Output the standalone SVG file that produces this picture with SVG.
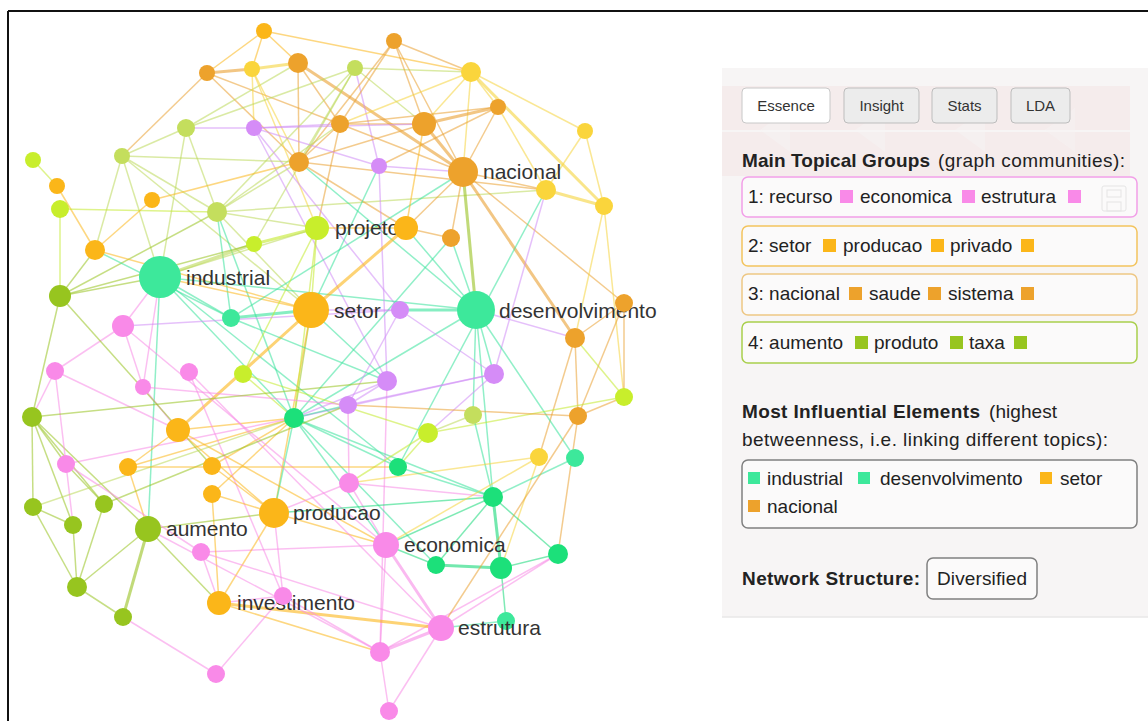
<svg xmlns="http://www.w3.org/2000/svg" width="1148" height="721" viewBox="0 0 1148 721">
<style>
.e line{stroke-width:1.5;stroke-opacity:0.55;fill:none}
.or{stroke:#fbb619}.do{stroke:#e9a032}.ye{stroke:#f5d43c}.yg{stroke:#c3ea2c}.lo{stroke:#bcd85a}.ol{stroke:#97c21f}.pk{stroke:#f78ae6}.pu{stroke:#d08cf5}.mi{stroke:#36e29a}.gr{stroke:#16d878}
.e line.w{stroke-width:3;stroke-opacity:0.6}
.cor{fill:#fbb619}.cdo{fill:#eda22c}.cye{fill:#fad53c}.cyg{fill:#c8ee2c}.clo{fill:#c4de5d}.col{fill:#97c51f}.cpk{fill:#f98ae8}.cpu{fill:#d58cf7}.cmi{fill:#3de89b}.cgr{fill:#1ce07a}
.lbl{font-family:"Liberation Sans",Arial,sans-serif;font-size:21px;fill:#333}
.pt{font-family:"Liberation Sans",Arial,sans-serif;font-size:19px;fill:#222}
.b{font-weight:bold}
.btn{font-family:"Liberation Sans",Arial,sans-serif;font-size:15px;fill:#333;text-anchor:middle}
</style>
<rect width="1148" height="721" fill="#fff"/>
<g id="frame" stroke="#111" stroke-width="2">
<line x1="8" y1="11" x2="1148" y2="11"/>
<line x1="8" y1="11" x2="8" y2="721"/>
</g>
<g id="connectors" class="e">
<line class="or" x1="264" y1="31" x2="207" y2="73"/>
<line class="or" x1="264" y1="31" x2="252" y2="69"/>
<line class="or" x1="264" y1="31" x2="298" y2="63"/>
<line class="or" x1="264" y1="31" x2="471" y2="72"/>
<line class="do w" x1="207" y1="73" x2="252" y2="69"/>
<line class="ye w" x1="252" y1="69" x2="298" y2="63"/>
<line class="do" x1="207" y1="73" x2="122" y2="156"/>
<line class="do" x1="207" y1="73" x2="340" y2="124"/>
<line class="do" x1="207" y1="73" x2="299" y2="162"/>
<line class="do w" x1="298" y1="63" x2="463" y2="172"/>
<line class="do" x1="298" y1="63" x2="340" y2="124"/>
<line class="do" x1="298" y1="63" x2="299" y2="162"/>
<line class="lo" x1="298" y1="63" x2="186" y2="128"/>
<line class="ye" x1="252" y1="69" x2="254" y2="128"/>
<line class="ye" x1="252" y1="69" x2="299" y2="162"/>
<line class="ye" x1="252" y1="69" x2="317" y2="228"/>
<line class="lo" x1="355" y1="68" x2="186" y2="128"/>
<line class="lo" x1="355" y1="68" x2="471" y2="72"/>
<line class="lo" x1="355" y1="68" x2="424" y2="124"/>
<line class="pu" x1="355" y1="68" x2="379" y2="166"/>
<line class="lo" x1="355" y1="68" x2="217" y2="212"/>
<line class="lo" x1="355" y1="68" x2="254" y2="244"/>
<line class="lo" x1="355" y1="68" x2="299" y2="162"/>
<line class="do" x1="394" y1="41" x2="471" y2="72"/>
<line class="do" x1="394" y1="41" x2="340" y2="124"/>
<line class="do" x1="394" y1="41" x2="424" y2="124"/>
<line class="do" x1="394" y1="41" x2="463" y2="172"/>
<line class="do" x1="394" y1="41" x2="299" y2="162"/>
<line class="ye" x1="471" y1="72" x2="498" y2="107"/>
<line class="ye" x1="471" y1="72" x2="585" y2="131"/>
<line class="ye w" x1="471" y1="72" x2="604" y2="206"/>
<line class="ye" x1="471" y1="72" x2="463" y2="172"/>
<line class="ye" x1="471" y1="72" x2="424" y2="124"/>
<line class="ye" x1="471" y1="72" x2="340" y2="124"/>
<line class="do w" x1="498" y1="107" x2="424" y2="124"/>
<line class="do" x1="498" y1="107" x2="463" y2="172"/>
<line class="ye" x1="498" y1="107" x2="546" y2="190"/>
<line class="do" x1="498" y1="107" x2="340" y2="124"/>
<line class="do" x1="498" y1="107" x2="379" y2="166"/>
<line class="ye" x1="585" y1="131" x2="604" y2="206"/>
<line class="ye" x1="585" y1="131" x2="546" y2="190"/>
<line class="ye w" x1="546" y1="190" x2="604" y2="206"/>
<line class="do" x1="463" y1="172" x2="546" y2="190"/>
<line class="do w" x1="424" y1="124" x2="463" y2="172"/>
<line class="do" x1="424" y1="124" x2="340" y2="124"/>
<line class="do" x1="424" y1="124" x2="299" y2="162"/>
<line class="pu" x1="340" y1="124" x2="254" y2="128"/>
<line class="pu" x1="254" y1="128" x2="424" y2="124"/>
<line class="do" x1="340" y1="124" x2="463" y2="172"/>
<line class="do" x1="340" y1="124" x2="299" y2="162"/>
<line class="do" x1="340" y1="124" x2="317" y2="228"/>
<line class="pu" x1="254" y1="128" x2="186" y2="128"/>
<line class="pu" x1="254" y1="128" x2="379" y2="166"/>
<line class="pu" x1="254" y1="128" x2="400" y2="310"/>
<line class="pu" x1="254" y1="128" x2="387" y2="381"/>
<line class="lo" x1="186" y1="128" x2="122" y2="156"/>
<line class="lo" x1="186" y1="128" x2="217" y2="212"/>
<line class="lo" x1="186" y1="128" x2="160" y2="277"/>
<line class="lo" x1="122" y1="156" x2="95" y2="250"/>
<line class="lo" x1="122" y1="156" x2="160" y2="277"/>
<line class="lo" x1="122" y1="156" x2="217" y2="212"/>
<line class="lo" x1="122" y1="156" x2="299" y2="162"/>
<line class="lo" x1="122" y1="156" x2="311" y2="310"/>
<line class="yg" x1="33" y1="160" x2="57" y2="186"/>
<line class="or" x1="57" y1="186" x2="95" y2="250"/>
<line class="yg" x1="60" y1="209" x2="60" y2="296"/>
<line class="yg" x1="60" y1="209" x2="217" y2="212"/>
<line class="or" x1="152" y1="200" x2="95" y2="250"/>
<line class="or" x1="152" y1="200" x2="299" y2="162"/>
<line class="lo" x1="217" y1="212" x2="299" y2="162"/>
<line class="lo" x1="217" y1="212" x2="340" y2="124"/>
<line class="lo" x1="217" y1="212" x2="317" y2="228"/>
<line class="mi" x1="217" y1="212" x2="294" y2="418"/>
<line class="lo" x1="217" y1="212" x2="311" y2="310"/>
<line class="lo" x1="217" y1="212" x2="546" y2="190"/>
<line class="mi" x1="217" y1="212" x2="231" y2="318"/>
<line class="yg w" x1="254" y1="244" x2="317" y2="228"/>
<line class="lo w" x1="160" y1="277" x2="254" y2="244"/>
<line class="lo" x1="160" y1="277" x2="317" y2="228"/>
<line class="ol" x1="60" y1="296" x2="160" y2="277"/>
<line class="ol" x1="60" y1="296" x2="217" y2="212"/>
<line class="ol" x1="60" y1="296" x2="254" y2="244"/>
<line class="or" x1="160" y1="277" x2="311" y2="310"/>
<line class="or" x1="95" y1="250" x2="311" y2="310"/>
<line class="mi" x1="160" y1="277" x2="476" y2="310"/>
<line class="mi w" x1="231" y1="318" x2="311" y2="310"/>
<line class="mi" x1="95" y1="250" x2="231" y2="318"/>
<line class="mi" x1="160" y1="277" x2="231" y2="318"/>
<line class="mi" x1="160" y1="277" x2="294" y2="418"/>
<line class="mi" x1="160" y1="277" x2="398" y2="467"/>
<line class="mi" x1="160" y1="277" x2="148" y2="529"/>
<line class="pk" x1="160" y1="277" x2="123" y2="326"/>
<line class="pk" x1="160" y1="277" x2="143" y2="387"/>
<line class="mi" x1="299" y1="162" x2="476" y2="310"/>
<line class="do" x1="299" y1="162" x2="406" y2="228"/>
<line class="do" x1="299" y1="162" x2="546" y2="190"/>
<line class="pu" x1="379" y1="166" x2="387" y2="381"/>
<line class="mi" x1="379" y1="166" x2="311" y2="310"/>
<line class="do" x1="463" y1="172" x2="451" y2="238"/>
<line class="do" x1="463" y1="172" x2="406" y2="228"/>
<line class="ol w" x1="463" y1="172" x2="476" y2="310"/>
<line class="do w" x1="463" y1="172" x2="575" y2="338"/>
<line class="do" x1="463" y1="172" x2="624" y2="303"/>
<line class="mi" x1="463" y1="172" x2="231" y2="318"/>
<line class="pu" x1="463" y1="172" x2="379" y2="166"/>
<line class="pu" x1="546" y1="190" x2="494" y2="374"/>
<line class="mi" x1="546" y1="190" x2="398" y2="467"/>
<line class="ye" x1="604" y1="206" x2="575" y2="338"/>
<line class="ye" x1="604" y1="206" x2="624" y2="397"/>
<line class="do" x1="624" y1="303" x2="575" y2="338"/>
<line class="do" x1="624" y1="303" x2="578" y2="416"/>
<line class="do" x1="624" y1="303" x2="624" y2="397"/>
<line class="pu" x1="476" y1="310" x2="575" y2="338"/>
<line class="do" x1="575" y1="338" x2="578" y2="416"/>
<line class="do" x1="575" y1="338" x2="539" y2="457"/>
<line class="yg" x1="624" y1="397" x2="575" y2="338"/>
<line class="mi w" x1="476" y1="310" x2="400" y2="310"/>
<line class="pu" x1="311" y1="310" x2="400" y2="310"/>
<line class="or w" x1="311" y1="310" x2="406" y2="228"/>
<line class="or w" x1="311" y1="310" x2="178" y2="430"/>
<line class="ol" x1="311" y1="310" x2="294" y2="418"/>
<line class="yg" x1="311" y1="310" x2="317" y2="228"/>
<line class="mi" x1="311" y1="310" x2="387" y2="381"/>
<line class="or" x1="311" y1="310" x2="274" y2="513"/>
<line class="mi" x1="476" y1="310" x2="294" y2="418"/>
<line class="mi" x1="476" y1="310" x2="494" y2="374"/>
<line class="mi" x1="476" y1="310" x2="575" y2="458"/>
<line class="mi" x1="476" y1="310" x2="473" y2="415"/>
<line class="mi" x1="476" y1="310" x2="406" y2="228"/>
<line class="mi" x1="476" y1="310" x2="451" y2="238"/>
<line class="mi" x1="476" y1="310" x2="493" y2="497"/>
<line class="mi" x1="451" y1="238" x2="294" y2="418"/>
<line class="do" x1="451" y1="238" x2="406" y2="228"/>
<line class="or" x1="406" y1="228" x2="317" y2="228"/>
<line class="or" x1="406" y1="228" x2="424" y2="124"/>
<line class="yg" x1="317" y1="228" x2="294" y2="418"/>
<line class="yg" x1="317" y1="228" x2="243" y2="374"/>
<line class="pu" x1="400" y1="310" x2="494" y2="374"/>
<line class="pu" x1="400" y1="310" x2="348" y2="405"/>
<line class="pu" x1="387" y1="381" x2="348" y2="405"/>
<line class="pk" x1="387" y1="381" x2="380" y2="652"/>
<line class="pu" x1="387" y1="381" x2="294" y2="418"/>
<line class="pu" x1="494" y1="374" x2="348" y2="405"/>
<line class="pu" x1="494" y1="374" x2="294" y2="418"/>
<line class="pu" x1="494" y1="374" x2="428" y2="433"/>
<line class="yg" x1="624" y1="397" x2="428" y2="433"/>
<line class="do" x1="578" y1="416" x2="624" y2="397"/>
<line class="do" x1="578" y1="416" x2="348" y2="405"/>
<line class="do" x1="578" y1="416" x2="558" y2="554"/>
<line class="lo" x1="473" y1="415" x2="428" y2="433"/>
<line class="mi" x1="473" y1="415" x2="493" y2="497"/>
<line class="ye" x1="539" y1="457" x2="349" y2="483"/>
<line class="ye" x1="539" y1="457" x2="501" y2="568"/>
<line class="mi" x1="575" y1="458" x2="493" y2="497"/>
<line class="mi" x1="294" y1="418" x2="348" y2="405"/>
<line class="mi" x1="294" y1="418" x2="398" y2="467"/>
<line class="mi" x1="294" y1="418" x2="493" y2="497"/>
<line class="mi" x1="294" y1="418" x2="386" y2="545"/>
<line class="mi" x1="294" y1="418" x2="436" y2="565"/>
<line class="or" x1="294" y1="418" x2="178" y2="430"/>
<line class="or" x1="294" y1="418" x2="128" y2="467"/>
<line class="or" x1="294" y1="418" x2="212" y2="466"/>
<line class="or" x1="294" y1="418" x2="212" y2="494"/>
<line class="pk" x1="294" y1="418" x2="66" y2="464"/>
<line class="mi" x1="294" y1="418" x2="274" y2="513"/>
<line class="yg" x1="243" y1="374" x2="294" y2="418"/>
<line class="yg" x1="243" y1="374" x2="428" y2="433"/>
<line class="mi" x1="231" y1="318" x2="387" y2="381"/>
<line class="mi" x1="398" y1="467" x2="493" y2="497"/>
<line class="yg" x1="398" y1="467" x2="428" y2="433"/>
<line class="gr w" x1="493" y1="497" x2="501" y2="568"/>
<line class="gr" x1="493" y1="497" x2="558" y2="554"/>
<line class="gr" x1="493" y1="497" x2="386" y2="545"/>
<line class="gr" x1="493" y1="497" x2="436" y2="565"/>
<line class="pk" x1="493" y1="497" x2="349" y2="483"/>
<line class="gr" x1="386" y1="545" x2="436" y2="565"/>
<line class="gr w" x1="436" y1="565" x2="501" y2="568"/>
<line class="gr" x1="501" y1="568" x2="558" y2="554"/>
<line class="gr" x1="501" y1="568" x2="506" y2="621"/>
<line class="pk" x1="558" y1="554" x2="441" y2="628"/>
<line class="pk" x1="558" y1="554" x2="380" y2="652"/>
<line class="pk w" x1="386" y1="545" x2="441" y2="628"/>
<line class="pk" x1="386" y1="545" x2="380" y2="652"/>
<line class="pk" x1="386" y1="545" x2="349" y2="483"/>
<line class="or" x1="386" y1="545" x2="274" y2="513"/>
<line class="pk" x1="386" y1="545" x2="123" y2="326"/>
<line class="pk" x1="386" y1="545" x2="201" y2="552"/>
<line class="pk" x1="189" y1="372" x2="441" y2="628"/>
<line class="or" x1="178" y1="430" x2="386" y2="545"/>
<line class="pk w" x1="441" y1="628" x2="380" y2="652"/>
<line class="pk" x1="380" y1="652" x2="389" y2="711"/>
<line class="pk" x1="441" y1="628" x2="389" y2="711"/>
<line class="or w" x1="441" y1="628" x2="219" y2="603"/>
<line class="or" x1="380" y1="652" x2="219" y2="603"/>
<line class="pk" x1="283" y1="596" x2="380" y2="652"/>
<line class="pk" x1="283" y1="596" x2="219" y2="603"/>
<line class="pk" x1="283" y1="596" x2="274" y2="513"/>
<line class="pk" x1="283" y1="596" x2="189" y2="372"/>
<line class="pk" x1="216" y1="674" x2="123" y2="617"/>
<line class="pk" x1="216" y1="674" x2="283" y2="596"/>
<line class="or" x1="219" y1="603" x2="274" y2="513"/>
<line class="pk" x1="219" y1="603" x2="201" y2="552"/>
<line class="ol" x1="219" y1="603" x2="148" y2="529"/>
<line class="or" x1="219" y1="603" x2="212" y2="494"/>
<line class="ol" x1="148" y1="529" x2="274" y2="513"/>
<line class="ol" x1="148" y1="529" x2="77" y2="587"/>
<line class="ol w" x1="148" y1="529" x2="123" y2="617"/>
<line class="pk" x1="148" y1="529" x2="380" y2="652"/>
<line class="or" x1="148" y1="529" x2="128" y2="467"/>
<line class="ol" x1="32" y1="417" x2="148" y2="529"/>
<line class="ol" x1="77" y1="587" x2="123" y2="617"/>
<line class="ol" x1="33" y1="507" x2="77" y2="587"/>
<line class="ol" x1="33" y1="507" x2="73" y2="525"/>
<line class="ol" x1="73" y1="525" x2="77" y2="587"/>
<line class="ol" x1="104" y1="504" x2="77" y2="587"/>
<line class="ol" x1="33" y1="507" x2="32" y2="417"/>
<line class="ol" x1="32" y1="417" x2="104" y2="504"/>
<line class="ol" x1="32" y1="417" x2="73" y2="525"/>
<line class="pk" x1="66" y1="464" x2="73" y2="525"/>
<line class="ol" x1="66" y1="464" x2="32" y2="417"/>
<line class="ol" x1="66" y1="464" x2="104" y2="504"/>
<line class="pk" x1="55" y1="371" x2="32" y2="417"/>
<line class="pk" x1="55" y1="371" x2="66" y2="464"/>
<line class="pk" x1="55" y1="371" x2="123" y2="326"/>
<line class="pk" x1="55" y1="371" x2="178" y2="430"/>
<line class="pk" x1="143" y1="387" x2="123" y2="326"/>
<line class="pk" x1="143" y1="387" x2="178" y2="430"/>
<line class="pk" x1="143" y1="387" x2="348" y2="405"/>
<line class="pu" x1="123" y1="326" x2="400" y2="310"/>
<line class="ol" x1="60" y1="296" x2="32" y2="417"/>
<line class="ol" x1="60" y1="296" x2="212" y2="466"/>
<line class="ol" x1="60" y1="296" x2="95" y2="250"/>
<line class="or" x1="178" y1="430" x2="274" y2="513"/>
<line class="or" x1="178" y1="430" x2="128" y2="467"/>
<line class="or" x1="212" y1="466" x2="274" y2="513"/>
<line class="or" x1="212" y1="494" x2="274" y2="513"/>
<line class="pk" x1="349" y1="483" x2="274" y2="513"/>
<line class="ol" x1="104" y1="504" x2="348" y2="405"/>
<line class="gr" x1="274" y1="513" x2="493" y2="497"/>
<line class="pk" x1="201" y1="552" x2="441" y2="628"/>
<line class="yg" x1="428" y1="433" x2="349" y2="483"/>
<line class="pk" x1="348" y1="405" x2="349" y2="483"/>
<line class="mi" x1="506" y1="621" x2="441" y2="628"/>
<line class="ol" x1="32" y1="417" x2="387" y2="381"/>
<line class="lo" x1="33" y1="507" x2="294" y2="418"/>
<line class="or" x1="128" y1="467" x2="398" y2="467"/>
<line class="pk" x1="66" y1="464" x2="201" y2="552"/>
<line class="ye" x1="539" y1="457" x2="386" y2="545"/>
<line class="do" x1="578" y1="416" x2="441" y2="628"/>
</g>
<g id="nodes">
<g id="n1"><circle cx="264" cy="31" r="8" class="cor"/></g>
<g id="n2"><circle cx="207" cy="73" r="8" class="cdo"/></g>
<g id="n3"><circle cx="252" cy="69" r="8" class="cye"/></g>
<g id="n4"><circle cx="298" cy="63" r="10" class="cdo"/></g>
<g id="n5"><circle cx="355" cy="68" r="8" class="clo"/></g>
<g id="n6"><circle cx="394" cy="41" r="8" class="cdo"/></g>
<g id="n7"><circle cx="471" cy="72" r="10" class="cye"/></g>
<g id="n8"><circle cx="498" cy="107" r="8" class="cdo"/></g>
<g id="n9"><circle cx="424" cy="124" r="12" class="cdo"/></g>
<g id="n10"><circle cx="340" cy="124" r="9" class="cdo"/></g>
<g id="n11"><circle cx="254" cy="128" r="8" class="cpu"/></g>
<g id="n12"><circle cx="186" cy="128" r="9" class="clo"/></g>
<g id="n13"><circle cx="585" cy="131" r="8" class="cye"/></g>
<g id="n14"><circle cx="122" cy="156" r="8" class="clo"/></g>
<g id="n15"><circle cx="33" cy="160" r="8" class="cyg"/></g>
<g id="n16"><circle cx="57" cy="186" r="8" class="cor"/></g>
<g id="n17"><circle cx="60" cy="209" r="9" class="cyg"/></g>
<g id="n18"><circle cx="152" cy="200" r="8" class="cor"/></g>
<g id="n19"><circle cx="299" cy="162" r="10" class="cdo"/></g>
<g id="n20"><circle cx="379" cy="166" r="8" class="cpu"/></g>
<g id="n21"><circle cx="463" cy="172" r="15" class="cdo"/><text class="lbl" x="483" y="179">nacional</text></g>
<g id="n22"><circle cx="546" cy="190" r="10" class="cye"/></g>
<g id="n23"><circle cx="604" cy="206" r="9" class="cye"/></g>
<g id="n24"><circle cx="217" cy="212" r="10" class="clo"/></g>
<g id="n25"><circle cx="317" cy="228" r="12" class="cyg"/><text class="lbl" x="335" y="235">projeto</text></g>
<g id="n26"><circle cx="406" cy="228" r="12" class="cor"/></g>
<g id="n27"><circle cx="451" cy="238" r="9" class="cdo"/></g>
<g id="n28"><circle cx="254" cy="244" r="8" class="cyg"/></g>
<g id="n29"><circle cx="95" cy="250" r="10" class="cor"/></g>
<g id="n30"><circle cx="160" cy="277" r="21" class="cmi"/><text class="lbl" x="186" y="285">industrial</text></g>
<g id="n31"><circle cx="60" cy="296" r="11" class="col"/></g>
<g id="n32"><circle cx="311" cy="310" r="18" class="cor"/><text class="lbl" x="334" y="318">setor</text></g>
<g id="n33"><circle cx="231" cy="318" r="9" class="cmi"/></g>
<g id="n34"><circle cx="400" cy="310" r="9" class="cpu"/></g>
<g id="n35"><circle cx="476" cy="310" r="19" class="cmi"/><text class="lbl" x="499" y="318">desenvolvimento</text></g>
<g id="n36"><circle cx="624" cy="303" r="9" class="cdo"/></g>
<g id="n37"><circle cx="123" cy="326" r="11" class="cpk"/></g>
<g id="n38"><circle cx="575" cy="338" r="10" class="cdo"/></g>
<g id="n39"><circle cx="55" cy="371" r="9" class="cpk"/></g>
<g id="n40"><circle cx="143" cy="387" r="8" class="cpk"/></g>
<g id="n41"><circle cx="189" cy="372" r="9" class="cpk"/></g>
<g id="n42"><circle cx="243" cy="374" r="9" class="cyg"/></g>
<g id="n43"><circle cx="387" cy="381" r="10" class="cpu"/></g>
<g id="n44"><circle cx="494" cy="374" r="10" class="cpu"/></g>
<g id="n45"><circle cx="32" cy="417" r="10" class="col"/></g>
<g id="n46"><circle cx="178" cy="430" r="12" class="cor"/></g>
<g id="n47"><circle cx="294" cy="418" r="10" class="cgr"/></g>
<g id="n48"><circle cx="348" cy="405" r="9" class="cpu"/></g>
<g id="n49"><circle cx="578" cy="416" r="9" class="cdo"/></g>
<g id="n50"><circle cx="624" cy="397" r="9" class="cyg"/></g>
<g id="n51"><circle cx="473" cy="415" r="9" class="clo"/></g>
<g id="n52"><circle cx="428" cy="433" r="10" class="cyg"/></g>
<g id="n53"><circle cx="66" cy="464" r="9" class="cpk"/></g>
<g id="n54"><circle cx="128" cy="467" r="9" class="cor"/></g>
<g id="n55"><circle cx="212" cy="466" r="9" class="cor"/></g>
<g id="n56"><circle cx="212" cy="494" r="9" class="cor"/></g>
<g id="n57"><circle cx="349" cy="483" r="10" class="cpk"/></g>
<g id="n58"><circle cx="398" cy="467" r="9" class="cgr"/></g>
<g id="n59"><circle cx="539" cy="457" r="9" class="cye"/></g>
<g id="n60"><circle cx="575" cy="458" r="9" class="cmi"/></g>
<g id="n61"><circle cx="33" cy="507" r="9" class="col"/></g>
<g id="n62"><circle cx="104" cy="504" r="9" class="col"/></g>
<g id="n63"><circle cx="73" cy="525" r="9" class="col"/></g>
<g id="n64"><circle cx="148" cy="529" r="13" class="col"/><text class="lbl" x="166" y="536">aumento</text></g>
<g id="n65"><circle cx="274" cy="513" r="15" class="cor"/><text class="lbl" x="293" y="520">producao</text></g>
<g id="n66"><circle cx="493" cy="497" r="10" class="cgr"/></g>
<g id="n67"><circle cx="201" cy="552" r="9" class="cpk"/></g>
<g id="n68"><circle cx="386" cy="545" r="13" class="cpk"/><text class="lbl" x="404" y="552">economica</text></g>
<g id="n69"><circle cx="436" cy="565" r="9" class="cgr"/></g>
<g id="n70"><circle cx="501" cy="568" r="11" class="cgr"/></g>
<g id="n71"><circle cx="558" cy="554" r="10" class="cgr"/></g>
<g id="n72"><circle cx="77" cy="587" r="10" class="col"/></g>
<g id="n73"><circle cx="123" cy="617" r="9" class="col"/></g>
<g id="n74"><circle cx="219" cy="603" r="12" class="cor"/><text class="lbl" x="237" y="610">investimento</text></g>
<g id="n75"><circle cx="283" cy="596" r="9" class="cpk"/></g>
<g id="n76"><circle cx="506" cy="621" r="9" class="cmi"/></g>
<g id="n77"><circle cx="441" cy="628" r="13" class="cpk"/><text class="lbl" x="458" y="635">estrutura</text></g>
<g id="n78"><circle cx="380" cy="652" r="10" class="cpk"/></g>
<g id="n79"><circle cx="216" cy="674" r="9" class="cpk"/></g>
<g id="n80"><circle cx="389" cy="711" r="9" class="cpk"/></g>
</g>
<g id="panel">
<rect x="722" y="68" width="426" height="549" fill="#f7f5f5"/>
<line x1="722" y1="617" x2="1148" y2="617" stroke="#e9e7e7" stroke-width="1.5"/>
<g id="ghost" fill="#f3dcdc" opacity="0.35">
<rect x="722" y="86" width="408" height="44"/>
<rect x="722" y="132" width="408" height="44"/>
</g>
<g id="ghost-cuts" fill="#f7f5f5" opacity="0.45">
<polygon points="760,130 790,108 790,152"/>
<polygon points="855,130 885,108 885,152"/>
<polygon points="955,130 985,108 985,152"/>
<polygon points="1045,130 1075,108 1075,152"/>
</g>
<g id="buttons">
<rect x="742" y="88" width="88" height="35" rx="4" fill="#fff" stroke="#c8c8c8"/>
<text class="btn" x="786" y="111">Essence</text>
<rect x="844" y="88" width="75" height="35" rx="4" fill="#ececec" stroke="#bdbdbd"/>
<text class="btn" x="881.5" y="111">Insight</text>
<rect x="932" y="88" width="65" height="35" rx="4" fill="#ececec" stroke="#bdbdbd"/>
<text class="btn" x="964.5" y="111">Stats</text>
<rect x="1011" y="88" width="59" height="35" rx="4" fill="#ececec" stroke="#bdbdbd"/>
<text class="btn" x="1040.5" y="111">LDA</text>
</g>
<text class="pt b" x="742" y="167" textLength="188">Main Topical Groups</text>
<text class="pt" x="938" y="167" textLength="187">(graph communities):</text>
<g id="group1">
<rect x="742" y="177" width="395" height="40" rx="6" fill="#fbfafa" stroke="#f29fe8" stroke-width="1.5"/>
<text class="pt" x="748" y="203">1: recurso</text>
<rect x="840" y="190" width="13" height="13" fill="#f98ae8"/>
<text class="pt" x="860" y="203">economica</text>
<rect x="962" y="190" width="13" height="13" fill="#f98ae8"/>
<text class="pt" x="981" y="203">estrutura</text>
<rect x="1068" y="190" width="13" height="13" fill="#f98ae8"/>
<g fill="none" stroke="#d8d8d8" opacity="0.6"><rect x="1102" y="186" width="24" height="25" rx="2"/><rect x="1107" y="190" width="14" height="7"/><rect x="1107" y="202" width="14" height="9"/></g>
</g>
<g id="group2">
<rect x="742" y="226" width="395" height="40" rx="6" fill="#fbfafa" stroke="#f3c45e" stroke-width="1.5"/>
<text class="pt" x="748" y="252">2: setor</text>
<rect x="823" y="239" width="13" height="13" fill="#fbb619"/>
<text class="pt" x="843" y="252">producao</text>
<rect x="931" y="239" width="13" height="13" fill="#fbb619"/>
<text class="pt" x="950" y="252">privado</text>
<rect x="1021" y="239" width="13" height="13" fill="#fbb619"/>
</g>
<g id="group3">
<rect x="742" y="274" width="395" height="41" rx="6" fill="#fbfafa" stroke="#eec784" stroke-width="1.5"/>
<text class="pt" x="748" y="300">3: nacional</text>
<rect x="849" y="287" width="13" height="13" fill="#eda22c"/>
<text class="pt" x="869" y="300">saude</text>
<rect x="928" y="287" width="13" height="13" fill="#eda22c"/>
<text class="pt" x="948" y="300">sistema</text>
<rect x="1021" y="287" width="13" height="13" fill="#eda22c"/>
</g>
<g id="group4">
<rect x="742" y="322" width="395" height="41" rx="6" fill="#fbfafa" stroke="#a9cf4c" stroke-width="1.5"/>
<text class="pt" x="748" y="349">4: aumento</text>
<rect x="855" y="336" width="13" height="13" fill="#97c51f"/>
<text class="pt" x="874" y="349">produto</text>
<rect x="950" y="336" width="13" height="13" fill="#97c51f"/>
<text class="pt" x="969" y="349">taxa</text>
<rect x="1014" y="336" width="13" height="13" fill="#97c51f"/>
</g>
<text class="pt b" x="742" y="418" textLength="238">Most Influential Elements</text>
<text class="pt" x="989" y="418" textLength="68">(highest</text>
<text class="pt" x="742" y="446" textLength="366">betweenness, i.e. linking different topics):</text>
<g id="influential">
<rect x="742" y="460" width="395" height="68" rx="6" fill="#fbfafa" stroke="#808080" stroke-width="1.5"/>
<rect x="748" y="472" width="12" height="12" fill="#3de89b"/>
<text class="pt" x="767" y="485">industrial</text>
<rect x="858" y="472" width="12" height="12" fill="#3de89b"/>
<text class="pt" x="880" y="485">desenvolvimento</text>
<rect x="1040" y="472" width="12" height="12" fill="#fbb619"/>
<text class="pt" x="1060" y="485">setor</text>
<rect x="748" y="500" width="12" height="12" fill="#eda22c"/>
<text class="pt" x="767" y="513">nacional</text>
</g>
<text class="pt b" x="742" y="585" textLength="178">Network Structure:</text>
<g id="structure">
<rect x="927" y="558" width="110" height="41" rx="6" fill="#fbfafa" stroke="#808080" stroke-width="1.5"/>
<text class="pt" x="937" y="585" textLength="90">Diversified</text>
</g>
</g>
</svg>
